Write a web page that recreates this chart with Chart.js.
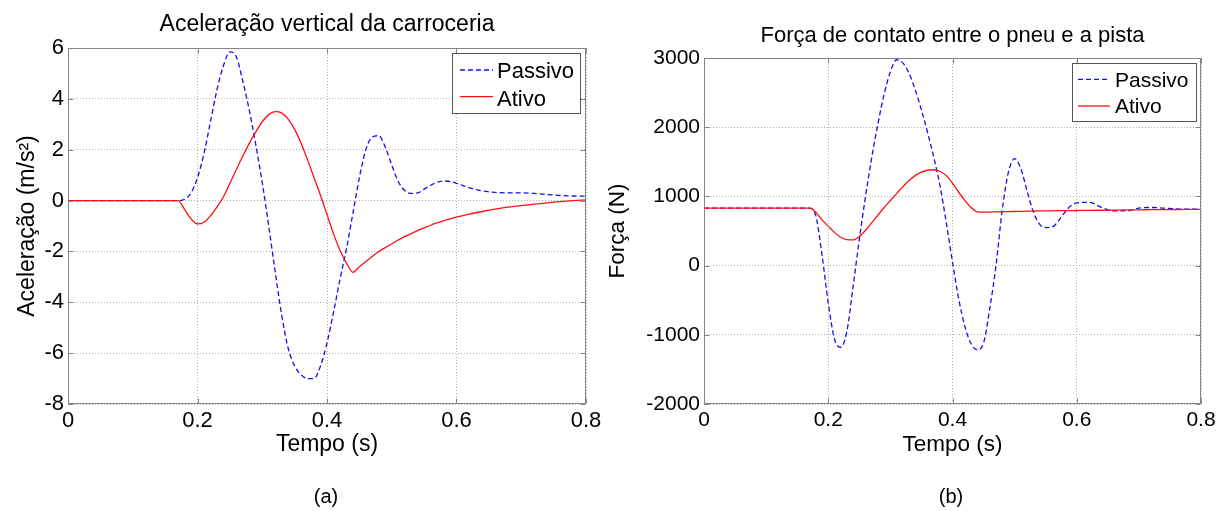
<!DOCTYPE html>
<html lang="pt">
<head>
<meta charset="UTF-8">
<title>Aceleração vertical e força de contato</title>
<script src="https://cdn.jsdelivr.net/npm/chart.js@4"></script>
<style>
  html, body { margin: 0; padding: 0; background: #fff; }
  body { width: 1227px; height: 511px; position: relative; overflow: hidden; font-family: 'Liberation Sans', Arial, sans-serif; }
  canvas { position: absolute; top: 0; }
  #chartA { left: 0; }
  #chartB { left: 600px; }
  .cap { position: absolute; top: 485px; font-size: 20px; line-height: 23px; transform: translateX(-50%); color: #000; }
</style>
</head>
<body>
<canvas id="chartA" width="610" height="511"></canvas>
<canvas id="chartB" width="627" height="511"></canvas>
<div class="cap" style="left:326px">(a)</div>
<div class="cap" style="left:951px">(b)</div>
<script>
const FONT = "'Liberation Sans', Arial, sans-serif";

// tempo (s), shared by both plots
const tempo = [0, 0.17, 0.18, 0.19, 0.20, 0.21, 0.22, 0.23, 0.24, 0.25, 0.26, 0.27, 0.28, 0.29,
  0.30, 0.31, 0.32, 0.33, 0.34, 0.35, 0.36, 0.37, 0.38, 0.39, 0.40, 0.41, 0.42, 0.43, 0.44,
  0.45, 0.46, 0.47, 0.48, 0.49, 0.50, 0.51, 0.52, 0.53, 0.54, 0.55, 0.56, 0.57, 0.58, 0.59,
  0.60, 0.62, 0.64, 0.66, 0.68, 0.70, 0.72, 0.74, 0.76, 0.78, 0.80];

// (a) aceleração vertical da carroceria, m/s^2
const acelPassivo = [0, 0, 0.05, 0.3, 0.9, 1.85, 3.1, 4.35, 5.3, 5.85, 5.65, 4.7, 3.55, 2.2,
  0.7, -1.0, -2.8, -4.5, -5.8, -6.5, -6.85, -7.0, -7.0, -6.5, -5.6, -4.4, -3.1, -1.9, -0.5,
  0.9, 2.0, 2.5, 2.55, 2.1, 1.4, 0.75, 0.4, 0.28, 0.3, 0.45, 0.6, 0.72, 0.77, 0.75,
  0.68, 0.5, 0.38, 0.32, 0.3, 0.3, 0.28, 0.24, 0.2, 0.18, 0.17];
const acelAtivo = [0, 0, -0.35, -0.72, -0.92, -0.85, -0.6, -0.26, 0.15, 0.68, 1.22, 1.75, 2.25, 2.7,
  3.1, 3.38, 3.5, 3.45, 3.2, 2.8, 2.25, 1.6, 0.9, 0.2, -0.55, -1.3, -1.95, -2.45, -2.82,
  -2.6, -2.4, -2.2, -2.0, -1.85, -1.7, -1.55, -1.42, -1.3, -1.18, -1.07, -0.97, -0.88, -0.8, -0.72,
  -0.65, -0.53, -0.43, -0.34, -0.26, -0.2, -0.14, -0.09, -0.04, 0.0, 0.03];

// (b) força de contato entre o pneu e a pista, N
const forcaPassivo = [830, 830, 720, 150, -540, -1060, -1180, -950, -300, 380, 1000, 1560, 2050, 2480,
  2800, 2975, 2930, 2780, 2540, 2250, 1920, 1560, 1150, 620, 50, -480, -880, -1130, -1215,
  -1120, -620, 0, 800, 1350, 1545, 1400, 1080, 780, 600, 550, 555, 640, 760, 860,
  905, 915, 840, 790, 790, 830, 840, 830, 820, 815, 815];
const forcaAtivo = [830, 830, 770, 660, 570, 480, 410, 375, 372, 420, 510, 620, 730, 840,
  940, 1040, 1140, 1230, 1300, 1350, 1378, 1385, 1360, 1300, 1190, 1060, 940, 840, 775,
  772, 774, 776, 778, 780, 782, 784, 786, 788, 790, 791, 792, 793, 794, 795,
  796, 798, 800, 802, 804, 806, 808, 810, 811, 812, 813];

const xTicks = [0, 0.2, 0.4, 0.6, 0.8];
const xTickLabels = ['0', '0.2', '0.4', '0.6', '0.8'];
const acelTicks = [-8, -6, -4, -2, 0, 2, 4, 6];
const forcaTicks = [-2000, -1000, 0, 1000, 2000, 3000];
const seriesNames = ['Passivo', 'Ativo'];

const pts = vals => tempo.map((t, i) => ({ x: t, y: vals[i] }));

// box, inner ticks, title and boxed legend, drawn like the MATLAB axes
function moldura(cfg) {
  return {
    id: 'moldura',
    afterDatasetsDraw(chart) {
      const { ctx, chartArea: a, scales: { x, y } } = chart;
      const L = Math.round(a.left) + 0.5, R = Math.round(a.right) - 0.5;
      const T = Math.round(a.top) + 0.5, B = Math.round(a.bottom) - 0.5;
      ctx.save();
      ctx.setLineDash([]);
      ctx.strokeStyle = '#858585';
      ctx.lineWidth = 1;
      ctx.strokeRect(L, T, R - L, B - T);
      ctx.beginPath();
      xTicks.forEach(v => {
        const px = Math.round(x.getPixelForValue(v)) + 0.5;
        ctx.moveTo(px, B); ctx.lineTo(px, B - 5);
        ctx.moveTo(px, T); ctx.lineTo(px, T + 5);
      });
      cfg.yTicks.forEach(v => {
        const py = Math.round(y.getPixelForValue(v)) + 0.5;
        ctx.moveTo(L, py); ctx.lineTo(L + 5, py);
        ctx.moveTo(R, py); ctx.lineTo(R - 5, py);
      });
      ctx.stroke();

      ctx.fillStyle = '#000';
      ctx.font = cfg.titleSize + 'px ' + FONT;
      ctx.textAlign = 'center';
      ctx.textBaseline = 'alphabetic';
      ctx.fillText(cfg.title, (a.left + a.right) / 2, cfg.titleY);

      const lg = cfg.legend;
      const bx = Math.round(a.right - lg.right - lg.w), by = Math.round(a.top + lg.top);
      ctx.fillStyle = '#fff';
      ctx.fillRect(bx, by, lg.w, lg.h);
      ctx.strokeStyle = '#555';
      ctx.lineWidth = 1;
      ctx.strokeRect(bx + 0.5, by + 0.5, lg.w, lg.h);
      chart.data.datasets.forEach((ds, i) => {
        const ly = by + lg.lineY[i];
        ctx.strokeStyle = ds.borderColor;
        ctx.lineWidth = ds.borderWidth;
        ctx.setLineDash(ds.borderDash || []);
        ctx.beginPath();
        ctx.moveTo(bx + lg.line[0], ly);
        ctx.lineTo(bx + lg.line[1], ly);
        ctx.stroke();
        ctx.setLineDash([]);
        ctx.fillStyle = '#000';
        ctx.font = lg.size + 'px ' + FONT;
        ctx.textAlign = 'left';
        ctx.fillText(ds.label, bx + lg.text, by + lg.baseY[i]);
      });
      ctx.restore();
    }
  };
}

function makeChart(id, o) {
  const gridStyle = { color: 'rgba(150,150,150,0.75)', lineWidth: 1, drawTicks: false };
  return new Chart(document.getElementById(id), {
    type: 'line',
    data: {
      datasets: [
        { label: seriesNames[0], data: pts(o.passivo), borderColor: '#1010f0', borderWidth: 1.3,
          borderDash: [5, 3], pointRadius: 0, cubicInterpolationMode: 'monotone', order: 2 },
        { label: seriesNames[1], data: pts(o.ativo), borderColor: '#ff1010', borderWidth: 1.3,
          pointRadius: 0, cubicInterpolationMode: 'monotone', order: 1 },
      ],
    },
    options: {
      responsive: false,
      animation: false,
      events: [],
      layout: { padding: { left: 0, top: o.top, right: o.right, bottom: 0 } },
      plugins: { legend: { display: false }, tooltip: { enabled: false }, title: { display: false } },
      scales: {
        x: {
          type: 'linear', min: 0, max: 0.8,
          afterBuildTicks: s => { s.ticks = xTicks.map(v => ({ value: v })); },
          afterFit: s => { s.height = 511 - 404; },
          grid: gridStyle,
          border: { display: false, dash: [1, 2] },
          ticks: { autoSkip: false, maxRotation: 0, padding: 4, color: '#000',
            font: { family: FONT, size: o.tickSize }, callback: (v, i) => xTickLabels[i] },
          title: { display: true, text: 'Tempo (s)', color: '#000',
            font: { family: FONT, size: o.labelSize }, padding: { top: 0, bottom: o.xTitlePad } },
        },
        y: {
          type: 'linear', min: o.yTicks[0], max: o.yTicks[o.yTicks.length - 1],
          afterBuildTicks: s => { s.ticks = o.yTicks.map(v => ({ value: v })); },
          afterFit: s => { s.width = o.yWidth; },
          grid: gridStyle,
          border: { display: false, dash: [1, 2] },
          ticks: { autoSkip: false, padding: 4, color: '#000',
            font: { family: FONT, size: o.tickSize }, callback: v => String(v) },
          title: { display: true, text: o.yTitle, color: '#000',
            font: { family: FONT, size: o.labelSize }, padding: { top: o.yTitlePad, bottom: 0 } },
        },
      },
    },
    plugins: [moldura({ title: o.title, titleY: o.titleY, titleSize: o.titleSize, yTicks: o.yTicks, legend: o.legend })],
  });
}

makeChart('chartA', {
  passivo: acelPassivo, ativo: acelAtivo, yTicks: acelTicks,
  top: 48, right: 24, yWidth: 68, tickSize: 22, labelSize: 23,
  xTitlePad: 52.2, yTitlePad: 14.2,
  yTitle: 'Aceleração (m/s²)',
  title: 'Aceleração vertical da carroceria', titleY: 31, titleSize: 23,
  legend: { right: 6, top: 5, w: 128, h: 60, line: [8, 41], text: 45, size: 22,
    lineY: [17, 43.7], baseY: [25.3, 53] },
});

makeChart('chartB', {
  passivo: forcaPassivo, ativo: forcaAtivo, yTicks: forcaTicks,
  top: 58, right: 26, yWidth: 104, tickSize: 21, labelSize: 22.5,
  xTitlePad: 52.5, yTitlePad: 4.5,
  yTitle: 'Força (N)',
  title: 'Força de contato entre o pneu e a pista', titleY: 42, titleSize: 22,
  legend: { right: 5, top: 5, w: 124, h: 58, line: [6, 38], text: 43, size: 21,
    lineY: [16.3, 43], baseY: [24.3, 50.3] },
});
</script>
</body>
</html>
